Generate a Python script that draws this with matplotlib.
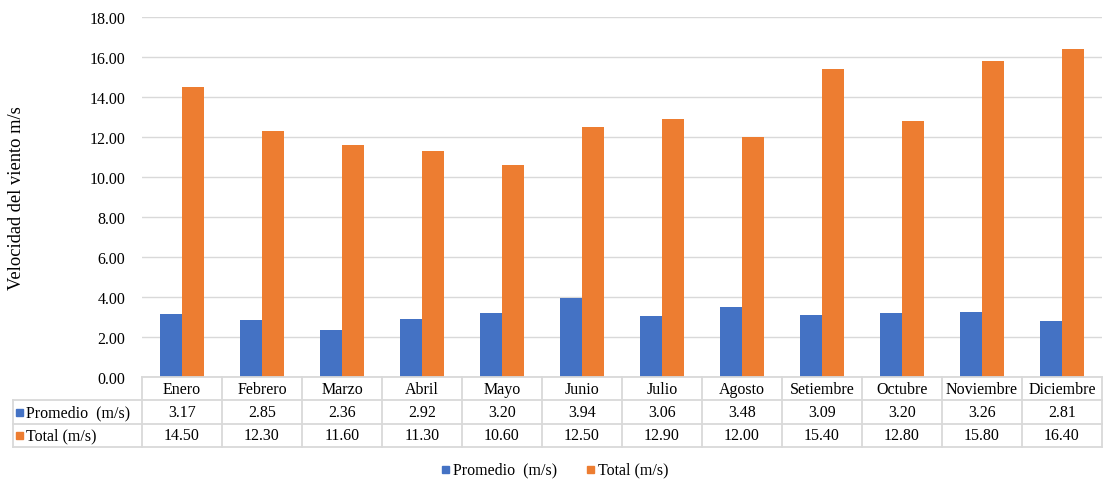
import numpy as np
import matplotlib.pyplot as plt
from matplotlib.patches import Rectangle

meses = ['Enero', 'Febrero', 'Marzo', 'Abril', 'Mayo', 'Junio', 'Julio',
         'Agosto', 'Setiembre', 'Octubre', 'Noviembre', 'Diciembre']
promedio = [3.17, 2.85, 2.36, 2.92, 3.20, 3.94, 3.06, 3.48, 3.09, 3.20, 3.26, 2.81]
total = [14.50, 12.30, 11.60, 11.30, 10.60, 12.50, 12.90, 12.00, 15.40, 12.80, 15.80, 16.40]
series_names = ['Promedio  (m/s)', 'Total (m/s)']
yticks = np.arange(0, 18.01, 2)

BLUE = '#4472C4'
ORANGE = '#ED7D31'
GRID = '#D9D9D9'
FS = 11.5

plt.rcParams['font.family'] = ['Liberation Serif', 'DejaVu Serif']

W, H = 1110, 485
fig = plt.figure(figsize=(W/100, H/100), dpi=100)
x0, x1, ytop, ybot = 142, 1102, 18, 378
ax = fig.add_axes([x0/W, 1 - ybot/H, (x1 - x0)/W, (ybot - ytop)/H])

n = len(meses)
x = np.arange(n)
bw = 0.28
ax.bar(x - bw/2, promedio, bw, color=BLUE, zorder=3)
ax.bar(x + bw/2, total, bw, color=ORANGE, zorder=3)

ax.set_xlim(-0.5, n - 0.5)
ax.set_ylim(0, 18)
ax.set_yticks(yticks)
ax.set_yticklabels([f'{v:.2f}' for v in yticks], fontsize=FS)
ax.set_xticks([])
ax.grid(axis='y', color=GRID, linewidth=1, zorder=0)
for s in ax.spines.values():
    s.set_visible(False)
ax.tick_params(axis='y', length=0, pad=12)
ax.set_ylabel('Velocidad del viento m/s', fontsize=13.3)
ax.yaxis.set_label_coords((17 - x0) / (x1 - x0), 0.5)
ax.yaxis.label.set_va('center')

# data table below the plot, in pixel-based figure coords
def fx(px):
    return px / W

def fy(py):
    return 1 - py / H

col_edges = [x0 + i * (x1 - x0) / n for i in range(n + 1)]
rows = [378, 401, 425, 448]
left = 13
lc = dict(color=GRID, linewidth=1.3, transform=fig.transFigure)

# horizontal lines
fig.add_artist(plt.Line2D([fx(x0), fx(x1)], [fy(rows[0])] * 2, **lc))
for r in rows[1:]:
    fig.add_artist(plt.Line2D([fx(left), fx(x1)], [fy(r)] * 2, **lc))
# vertical lines
for c in col_edges:
    fig.add_artist(plt.Line2D([fx(c)] * 2, [fy(rows[0]), fy(rows[3])], **lc))
fig.add_artist(plt.Line2D([fx(left)] * 2, [fy(rows[1]), fy(rows[3])], **lc))

for i in range(n):
    cx = fx((col_edges[i] + col_edges[i + 1]) / 2)
    fig.text(cx, fy((rows[0] + rows[1]) / 2), meses[i], ha='center', va='center', fontsize=FS)
    fig.text(cx, fy((rows[1] + rows[2]) / 2), f'{promedio[i]:.2f}', ha='center', va='center', fontsize=FS)
    fig.text(cx, fy((rows[2] + rows[3]) / 2), f'{total[i]:.2f}', ha='center', va='center', fontsize=FS)

for k, (name, col) in enumerate(zip(series_names, [BLUE, ORANGE])):
    cy = (rows[k + 1] + rows[k + 2]) / 2
    fig.add_artist(Rectangle((fx(16), fy(cy + 3.5)), 7 / W, 7 / H, color=col,
                             transform=fig.transFigure))
    fig.text(fx(26), fy(cy), name, ha='left', va='center', fontsize=FS)

# legend
leg_y = 470
for px, name, col in [(442, series_names[0], BLUE), (587, series_names[1], ORANGE)]:
    fig.add_artist(Rectangle((fx(px), fy(leg_y + 3.5)), 7 / W, 7 / H, color=col,
                             transform=fig.transFigure))
    fig.text(fx(px + 11), fy(leg_y), name, ha='left', va='center', fontsize=FS)

fig.savefig('out.png', dpi=100)
